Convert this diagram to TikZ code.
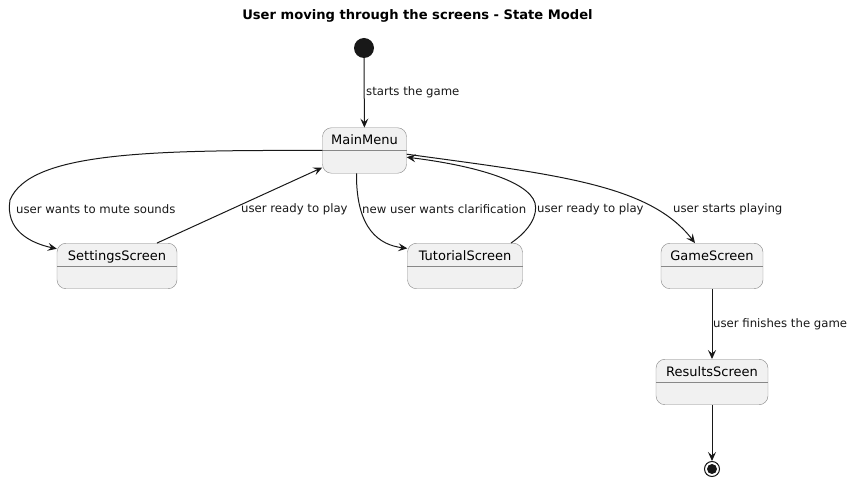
\documentclass[tikz,border=0pt]{standalone}
\usepackage{fontspec}
\setmainfont{DejaVu Sans}
\usetikzlibrary{arrows.meta}
\definecolor{Fondo}{RGB}{241, 241, 241}
\definecolor{Borde}{RGB}{136, 136, 136}
\definecolor{Linea}{RGB}{24, 24, 24}

\begin{document}
\begin{tikzpicture}[x=1pt,y=-1pt,
	estado/.style={draw=Borde, fill=Fondo, rounded corners=9pt, inner sep=0pt,
		text height=17pt, text depth=28.5pt, font=\fontsize{13}{15}\selectfont},
	flecha/.style={draw=Linea, line width=1pt, -{Stealth[length=9pt,width=8pt,inset=3.5pt]}},
	etiqueta/.style={anchor=west, inner sep=0pt, text=Linea, font=\fontsize{11.7}{13}\selectfont}]
	\useasboundingbox (0,0) rectangle (847,478);

	%Titulo
	\node[font=\bfseries\fontsize{13.1}{15}\selectfont] (titulo) at (417.5,16) {User moving through the screens - State Model};

	%Estados inicial y final
	\node[circle, fill=Linea, minimum size=20pt, inner sep=0pt] (inicio) at (364,48) {};
	\node[circle, draw=Linea, line width=1pt, fill=white, minimum size=15pt, inner sep=0pt] (fin) at (712,469) {};
	\fill[Linea] (fin.center) circle (5pt);

	%Pantallas
	\node[estado, minimum width=84pt] (main) at (364.5,150.5) {MainMenu};
	\node[estado, minimum width=120pt] (settings) at (117,266) {SettingsScreen};
	\node[estado, minimum width=115pt] (tutorial) at (465,266) {TutorialScreen};
	\node[estado, minimum width=102pt] (game) at (712,266) {GameScreen};
	\node[estado, minimum width=112pt] (results) at (712,382) {ResultsScreen};

	%Linea que divide cada estado
	\foreach \n in {main,settings,tutorial,game,results}
		\draw[Borde] (\n.west) -- (\n.east);

	%Transiciones
	\draw[flecha] (inicio) -- (main);
	\draw[flecha] (main.west) .. controls (150,150) and (30,152) .. (10,200)
		.. controls (5,230) and (30,243) .. (settings.164);
	\draw[flecha] ([xshift=40pt]settings.north) -- (main.202);
	\draw[flecha] ([xshift=-8pt]main.south) .. controls (356,230) and (380,245) .. (tutorial.163);
	\draw[flecha] ([xshift=46pt]tutorial.north) .. controls (530,230) and (538,215) .. (535,203)
		.. controls (528,180) and (470,165) .. (main.-9);
	\draw[flecha] (main.-5) .. controls (560,175) and (650,185) .. ([xshift=-17pt]game.north);
	\draw[flecha] (game) -- (results);
	\draw[flecha] (results) -- (fin);

	%Etiquetas de las transiciones
	\node[etiqueta] (e1) at (366,92) {starts the game};
	\node[etiqueta] (e2) at (16,209) {user wants to mute sounds};
	\node[etiqueta] (e3) at (241,209) {user ready to play};
	\node[etiqueta] (e4) at (362,209) {new user wants clarification};
	\node[etiqueta] (e5) at (537,209) {user ready to play};
	\node[etiqueta] (e6) at (673,209) {user starts playing};
	\node[etiqueta] (e7) at (713,324) {user finishes the game};
\end{tikzpicture}
\end{document}
